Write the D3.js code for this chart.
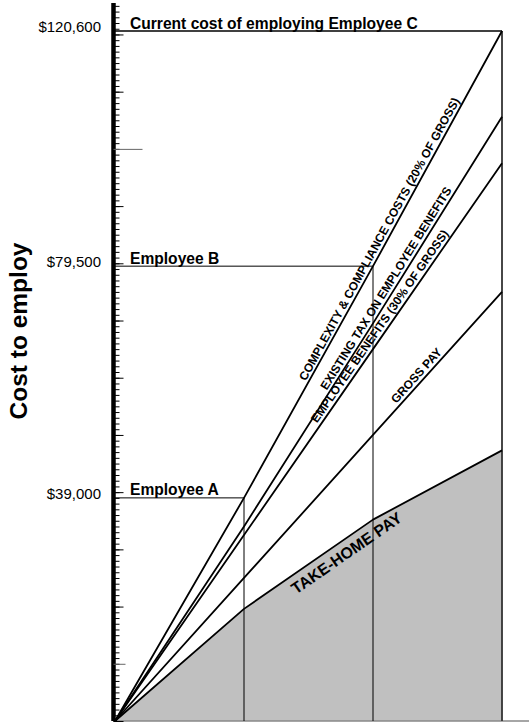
<!DOCTYPE html>
<html lang="en">
<head>
<meta charset="UTF-8">
<title>Cost to employ</title>
<style>
	html, body {width: 100%; height: 100%; padding: 0; margin: 0; background: #fff;}
	svg {display: block; font-family: "Liberation Sans", Arial, Helvetica, sans-serif;}
	.series {fill: none; stroke: #000; stroke-width: 1.8px; stroke-linejoin: round;}
	.ref {stroke: #000; stroke-width: 1px; fill: none;}
	.lineLabel {font-weight: bold;}
</style>
<script src="https://d3js.org/d3.v7.min.js"></script>
</head>
<body>

<script>
// employees along the x axis (index 0 is the origin)
var employees = ["", "Employee A", "Employee B", "Current cost of employing Employee C"];
var costLabels = ["", "$39,000", "$79,500", "$120,600"];

// stacked cost components
var totalCost  = [0, 39000, 79500, 120600];
var benefitTax = [0, 34000, 69500, 105600];
var benefits   = [0, 32500, 65000, 97500];
var grossPay   = [0, 25000, 50000, 75000];
var takeHome   = [0, 19600, 35200, 47300];

var seriesNames = [
	"COMPLEXITY & COMPLIANCE COSTS (20% OF GROSS)",
	"EXISTING TAX ON EMPLOYEE BENEFITS",
	"EMPLOYEE BENEFITS (30% OF GROSS)",
	"GROSS PAY",
	"TAKE-HOME PAY"
];
var axisTitle = "Cost to employ";
</script>

<script>
	var width = 529, height = 723;
	var svg = d3.select('body').append('svg')
		.attr('width', width)
		.attr('height', height);

	var x = d3.scaleLinear().domain([0, 3]).range([115, 502]);
	var y = d3.scaleLinear().domain([0, 125500]).range([721, 3]);
	var axisX = 113.5;

	var seriesValues = [totalCost, benefitTax, benefits, grossPay, takeHome];
	// where along the line (in employee index units) each label sits
	var labelAt = [2.10, 2.15, 2.10, 2.38, 1.74];

	// shaded take-home area
	svg.append('path')
		.datum(takeHome)
		.attr('fill', '#c0c0c0')
		.attr('d', d3.area()
			.x(function (d, i) { return x(i); })
			.y0(y(0))
			.y1(function (d) { return y(d); }));

	// baseline
	svg.append('line')
		.attr('x1', x(0)).attr('x2', width)
		.attr('y1', y(0)).attr('y2', y(0))
		.attr('stroke', '#888').attr('stroke-width', 1.5);

	// reference lines for each employee
	for (var i = 1; i < employees.length; i++) {
		svg.append('line').attr('class', 'ref')
			.attr('x1', axisX).attr('x2', x(i))
			.attr('y1', y(totalCost[i])).attr('y2', y(totalCost[i]))
			.style('stroke-width', i === 3 ? 1.4 : 1);
		svg.append('line').attr('class', 'ref')
			.attr('x1', x(i)).attr('x2', x(i))
			.attr('y1', y(totalCost[i])).attr('y2', y(0))
			.style('stroke', i === 3 ? '#333' : '#000')
			.style('stroke-width', i === 3 ? 1.8 : 1);
		svg.append('text')
			.attr('x', 130).attr('y', y(totalCost[i]) - 2.5)
			.attr('font-weight', 'bold').attr('font-size', '15.6px')
			.text(employees[i]);
		svg.append('text')
			.attr('x', 101).attr('y', y(totalCost[i]) + 1)
			.attr('text-anchor', 'end').attr('font-size', '15px')
			.text(costLabels[i]);
	}

	// y axis: minor + major ticks
	var minor = d3.axisRight(y).tickValues(d3.range(0, 125001, 1000)).tickSize(6).tickFormat('');
	var major = d3.axisRight(y).tickValues(d3.range(0, 125001, 10000)).tickSize(10).tickFormat('');
	var gMinor = svg.append('g').attr('transform', 'translate(' + axisX + ',0)').call(minor);
	var gMajor = svg.append('g').attr('transform', 'translate(' + axisX + ',0)').call(major);
	gMajor.select('.domain').remove();
	gMinor.select('.domain').attr('stroke-width', 4.5).attr('d', 'M0,' + y(0) + 'V' + y.range()[1]);
	gMajor.selectAll('.tick line').attr('x2', function (d) {
		return d === 100000 ? 29 : (d === 10000 ? 12 : 10);
	}).attr('stroke', function (d) { return (d === 100000 || d === 10000) ? '#666' : '#000'; });

	// data lines
	var line = d3.line()
		.x(function (d, i) { return x(i); })
		.y(function (d) { return y(d); });
	svg.selectAll('.series')
		.data(seriesValues)
		.enter().append('path')
		.attr('class', 'series')
		.attr('d', line);

	// labels along lines
	seriesValues.forEach(function (vals, k) {
		var t = labelAt[k];
		var s = Math.floor(t), f = t - s;
		var x0 = x(s), y0 = y(vals[s]), x1 = x(s + 1), y1 = y(vals[s + 1]);
		var px = x0 + (x1 - x0) * f, py = y0 + (y1 - y0) * f;
		var ang = Math.atan2(y1 - y0, x1 - x0) * 180 / Math.PI;
		var below = k === 4;
		svg.append('text')
			.attr('class', 'lineLabel')
			.attr('transform', 'translate(' + px + ',' + py + ') rotate(' + ang + ')')
			.attr('text-anchor', 'middle')
			.attr('dy', below ? 18 : -3.5)
			.style('font-size', below ? '16px' : '12px')
			.text(seriesNames[k]);
	});

	// axis title
	svg.append('text')
		.attr('transform', 'translate(27,331) rotate(-90)')
		.attr('text-anchor', 'middle')
		.attr('font-weight', 'bold')
		.attr('font-size', '24.5px')
		.text(axisTitle);
</script>

</body>
</html>
